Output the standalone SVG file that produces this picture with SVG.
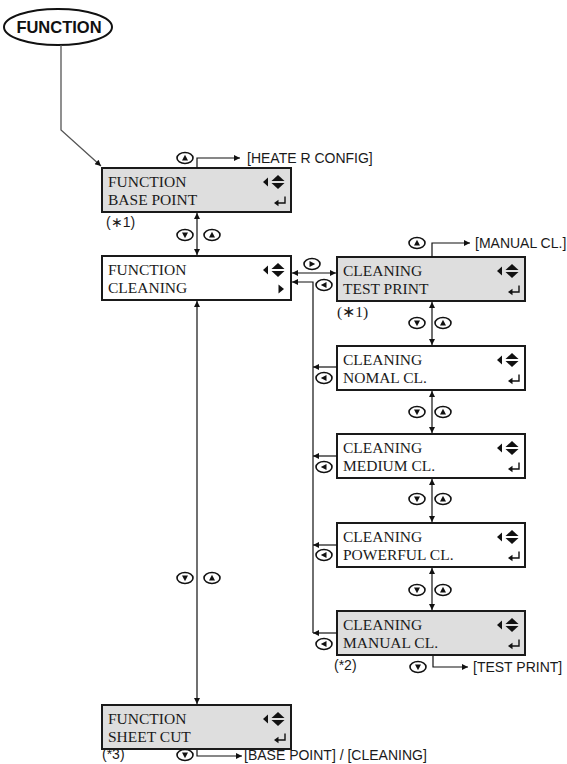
<svg xmlns="http://www.w3.org/2000/svg" xmlns:xlink="http://www.w3.org/1999/xlink" width="567" height="764" viewBox="0 0 567 764">
<style>
.box{stroke:#1a1a1a;stroke-width:2}
.g{fill:#dedede}
.w{fill:#ffffff}
.t{font-family:"Liberation Serif","Times New Roman",serif;font-size:15.5px;fill:#1a1a1a}
.s{font-family:"Liberation Sans",Arial,sans-serif;font-size:14px;fill:#1a1a1a}
.c{fill:none;stroke:#111;stroke-width:1.2}
.cg{fill:none;stroke:#555;stroke-width:1.3}
.ke{fill:#fff;stroke:#111;stroke-width:1.6}
</style>
<defs>
<marker id="ah" viewBox="0 0 10 10" refX="10" refY="5" markerUnits="userSpaceOnUse" markerWidth="9" markerHeight="6" orient="auto-start-reverse"><path d="M0,0 L10,5 L0,10 z" fill="#111"/></marker>
<g id="kU"><ellipse class="ke" rx="8" ry="5.5"/><polygon points="-3,2.5 3,2.5 0,-3.2" fill="#111"/></g>
<g id="kD"><ellipse class="ke" rx="8" ry="5.5"/><polygon points="-3,-2.5 3,-2.5 0,3.2" fill="#111"/></g>
<g id="kL"><ellipse class="ke" rx="8" ry="5.5"/><polygon points="2.5,-3 2.5,3 -3.2,0" fill="#111"/></g>
<g id="kR"><ellipse class="ke" rx="8" ry="5.5"/><polygon points="-2.5,-3 -2.5,3 3.2,0" fill="#111"/></g>
<g id="nav" fill="#111"><polygon points="-28,14 -23,9.5 -23,18.5"/><polygon points="-19.5,13 -6.5,13 -13,7"/><polygon points="-19.5,15 -6.5,15 -13,21"/></g>
<g id="ret"><path d="M-6,28.5 V35 H-13" fill="none" stroke="#111" stroke-width="1.4"/><polygon points="-17,35 -12.5,31.8 -12.5,38.2" fill="#111"/></g>
</defs>

<g id="n-function">
<ellipse cx="58" cy="27" rx="54" ry="18" fill="#fff" stroke="#111" stroke-width="2"/>
<text x="59" y="33" text-anchor="middle" font-family="'Liberation Sans',Arial,sans-serif" font-weight="bold" font-size="16.5" fill="#111">FUNCTION</text>
</g>

<g id="n-basepoint">
<rect class="box g" x="102" y="168" width="189" height="44"/>
<text class="t" x="108" y="187">FUNCTION</text>
<text class="t" x="108" y="205">BASE POINT</text>
<use href="#nav" transform="translate(291,168)"/>
<use href="#ret" transform="translate(291,168)"/>
<text class="s" x="106" y="227">(∗1)</text>
</g>

<g id="n-cleaning">
<rect class="box w" x="102" y="256" width="189" height="44"/>
<text class="t" x="108" y="275">FUNCTION</text>
<text class="t" x="108" y="293">CLEANING</text>
<use href="#nav" transform="translate(291,256)"/>
<polygon points="278.5,284.5 278.5,293.5 284,289" fill="#111"/>
</g>

<g id="n-testprint">
<rect class="box g" x="337" y="257" width="188" height="44"/>
<text class="t" x="343" y="276">CLEANING</text>
<text class="t" x="343" y="294">TEST PRINT</text>
<use href="#nav" transform="translate(525,257)"/>
<use href="#ret" transform="translate(525,257)"/>
<text class="t" x="337" y="317" font-size="14">(∗1)</text>
</g>

<g id="n-nomal">
<rect class="box w" x="337" y="346" width="188" height="44"/>
<text class="t" x="343" y="365">CLEANING</text>
<text class="t" x="343" y="383">NOMAL CL.</text>
<use href="#nav" transform="translate(525,346)"/>
<use href="#ret" transform="translate(525,346)"/>
</g>

<g id="n-medium">
<rect class="box w" x="337" y="434" width="188" height="44"/>
<text class="t" x="343" y="453">CLEANING</text>
<text class="t" x="343" y="471">MEDIUM CL.</text>
<use href="#nav" transform="translate(525,434)"/>
<use href="#ret" transform="translate(525,434)"/>
</g>

<g id="n-powerful">
<rect class="box w" x="337" y="523" width="188" height="44"/>
<text class="t" x="343" y="542">CLEANING</text>
<text class="t" x="343" y="560">POWERFUL CL.</text>
<use href="#nav" transform="translate(525,523)"/>
<use href="#ret" transform="translate(525,523)"/>
</g>

<g id="n-manual">
<rect class="box g" x="337" y="611" width="188" height="44"/>
<text class="t" x="343" y="630">CLEANING</text>
<text class="t" x="343" y="648">MANUAL CL.</text>
<use href="#nav" transform="translate(525,611)"/>
<use href="#ret" transform="translate(525,611)"/>
<text class="s" x="334" y="670">(*2)</text>
</g>

<g id="n-sheetcut">
<rect class="box g" x="102" y="705" width="189" height="44"/>
<text class="t" x="108" y="724">FUNCTION</text>
<text class="t" x="108" y="742">SHEET CUT</text>
<use href="#nav" transform="translate(291,705)"/>
<use href="#ret" transform="translate(291,705)"/>
<text class="s" x="102" y="759">(*3)</text>
</g>

<g id="connectors">
<path class="cg" d="M61,45 V130 L101,166" marker-end="url(#ah)"/>
<path class="c" d="M197,168 V158 H240" marker-end="url(#ah)"/>
<path class="c" d="M197,213 V255" marker-start="url(#ah)" marker-end="url(#ah)"/>
<path class="c" d="M292,273 H336" marker-start="url(#ah)" marker-end="url(#ah)"/>
<path class="c" d="M313,633 V282 H292" marker-end="url(#ah)"/>
<path class="c" d="M337,367 H313" marker-end="url(#ah)"/>
<path class="c" d="M337,456 H313" marker-end="url(#ah)"/>
<path class="c" d="M337,545 H313" marker-end="url(#ah)"/>
<path class="c" d="M337,633 H313" marker-end="url(#ah)"/>
<path class="c" d="M432,257 V243 H470" marker-end="url(#ah)"/>
<path class="c" d="M432,302 V345" marker-start="url(#ah)" marker-end="url(#ah)"/>
<path class="c" d="M432,391 V433" marker-start="url(#ah)" marker-end="url(#ah)"/>
<path class="c" d="M432,479 V522" marker-start="url(#ah)" marker-end="url(#ah)"/>
<path class="c" d="M432,568 V610" marker-start="url(#ah)" marker-end="url(#ah)"/>
<path class="c" d="M433,656 V667 H468" marker-end="url(#ah)"/>
<path class="c" d="M197,301 V704" marker-start="url(#ah)" marker-end="url(#ah)"/>
<path class="c" d="M197,750 V756 H242" marker-end="url(#ah)"/>
<use href="#kU" x="185" y="158"/>
<use href="#kD" x="185" y="235"/>
<use href="#kU" x="212" y="235"/>
<use href="#kR" x="312" y="264"/>
<use href="#kL" x="324" y="285"/>
<use href="#kU" x="417" y="243"/>
<use href="#kD" x="417" y="323"/>
<use href="#kU" x="443" y="323"/>
<use href="#kL" x="324" y="378"/>
<use href="#kD" x="417" y="412"/>
<use href="#kU" x="443" y="412"/>
<use href="#kL" x="324" y="467"/>
<use href="#kD" x="417" y="499"/>
<use href="#kU" x="443" y="499"/>
<use href="#kL" x="324" y="555"/>
<use href="#kD" x="417" y="590"/>
<use href="#kU" x="443" y="590"/>
<use href="#kL" x="324" y="644"/>
<use href="#kD" x="418" y="667"/>
<use href="#kD" x="185" y="578"/>
<use href="#kU" x="212" y="578"/>
<use href="#kD" x="185" y="755"/>
<text class="s" x="247" y="163">[HEATE R CONFIG]</text>
<text class="s" x="475" y="248">[MANUAL CL.]</text>
<text class="s" x="473" y="672">[TEST PRINT]</text>
<text class="s" x="244" y="760">[BASE POINT] / [CLEANING]</text>
</g>
</svg>
